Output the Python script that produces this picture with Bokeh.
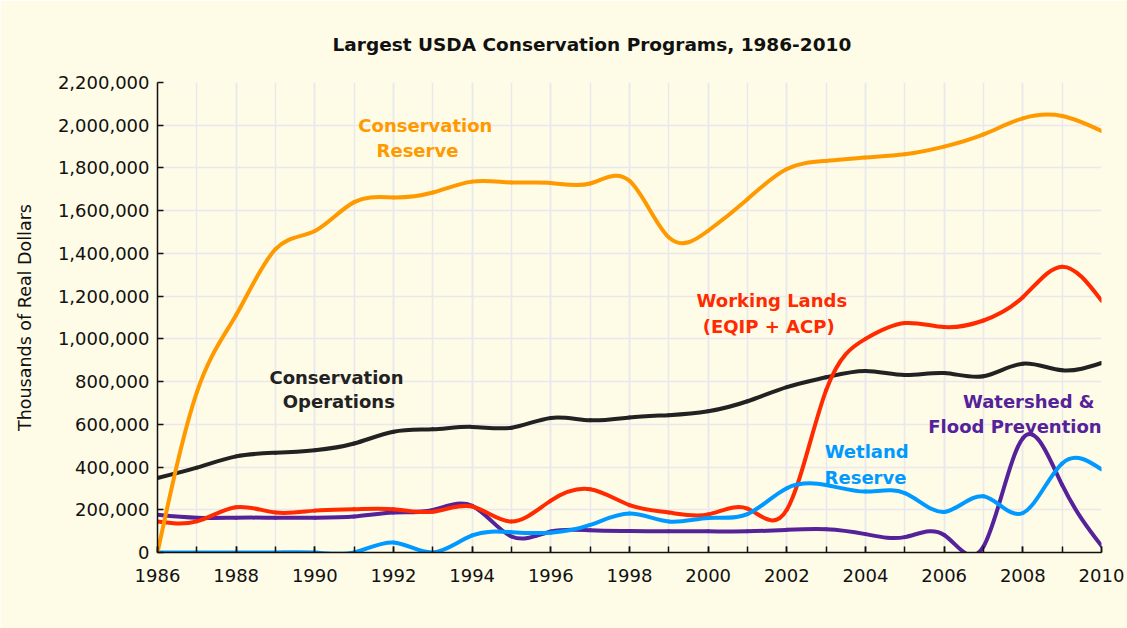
import numpy as np
from bokeh.plotting import figure
from bokeh.models import Range1d, FixedTicker, NumeralTickFormatter, Label
from bokeh.embed import file_html
from bokeh.resources import INLINE

# ---------------- data (thousands of real dollars) ----------------
years = list(range(1986, 2011))
conservation_reserve = [0, 750000, 1112000, 1420000, 1505000, 1640000, 1662000, 1685000,
                        1736000, 1732000, 1730000, 1727000, 1740000, 1475000, 1506000,
                        1654000, 1795000, 1833000, 1849000, 1864000, 1900000, 1957000,
                        2032000, 2043000, 1973000]
conservation_operations = [349000, 397000, 450000, 467000, 479000, 510000, 565000, 577000,
                           588000, 584000, 630000, 619000, 632000, 643000, 661000, 708000,
                           774000, 820000, 850000, 831000, 840000, 825000, 884000, 853000,
                           887000]
working_lands = [145000, 146000, 212000, 187000, 196000, 202000, 202000, 191000, 215000,
                 145000, 243000, 296000, 222000, 187000, 178000, 205000, 200000, 760000,
                 1000000, 1074000, 1055000, 1086000, 1195000, 1338000, 1179000]
wetland_reserve = [0, 0, 0, 0, 0, 0, 47000, 0, 80000, 95000, 93000, 129000, 182000, 145000,
                   162000, 180000, 301000, 316000, 285000, 278000, 190000, 263000, 185000,
                   417000, 389000]
watershed_flood = [177000, 163000, 163000, 163000, 163000, 168000, 187000, 199000, 218000,
                   75000, 98000, 104000, 101000, 99000, 99000, 99000, 106000, 109000,
                   86000, 72000, 82000, 28000, 535000, 316000, 31000]

x_ticks = list(range(1986, 2011, 2))
x_minor = list(range(1986, 2011, 1))
y_ticks = list(range(0, 2200001, 200000))

BG = "#fefbe6"
GRID = "#e9e8ee"
ORANGE = "#ff9900"
BLACK = "#222222"
RED = "#ff2a00"
BLUE = "#0099ff"
PURPLE = "#552299"
FONT = "DejaVu Sans"


def spline_bezier(xs, ys):
    """Natural cubic spline through the points, expressed as Bezier segments."""
    xs = np.asarray(xs, dtype=float)
    ys = np.asarray(ys, dtype=float)
    n = len(xs)
    h = np.diff(xs)
    A = np.zeros((n, n))
    r = np.zeros(n)
    A[0, 0] = 1.0
    A[-1, -1] = 1.0
    for i in range(1, n - 1):
        A[i, i - 1] = h[i - 1]
        A[i, i] = 2 * (h[i - 1] + h[i])
        A[i, i + 1] = h[i]
        r[i] = 6 * ((ys[i + 1] - ys[i]) / h[i] - (ys[i] - ys[i - 1]) / h[i - 1])
    M = np.linalg.solve(A, r)
    m = np.zeros(n)
    for i in range(n - 1):
        m[i] = (ys[i + 1] - ys[i]) / h[i] - h[i] * (2 * M[i] + M[i + 1]) / 6
    m[-1] = (ys[-1] - ys[-2]) / h[-1] + h[-1] * (M[-2] + 2 * M[-1]) / 6
    return dict(x0=xs[:-1], y0=ys[:-1], x1=xs[1:], y1=ys[1:],
                cx0=xs[:-1] + h / 3, cy0=ys[:-1] + m[:-1] * h / 3,
                cx1=xs[1:] - h / 3, cy1=ys[1:] - m[1:] * h / 3)


p = figure(width=1127, height=628,
           x_range=Range1d(1986, 2010), y_range=Range1d(0, 2200000),
           output_backend="svg", toolbar_location=None,
           min_border_left=157, min_border_right=26,
           min_border_top=82, min_border_bottom=76)

p.background_fill_color = BG
p.border_fill_color = BG
p.outline_line_color = None

# title
p.title.text = "Largest USDA Conservation Programs, 1986-2010"
p.title.text_font = FONT
p.title.text_font_style = "bold"
p.title.text_font_size = "18.5px"
p.title.text_color = "#111111"
p.title.align = "left"
p.title.offset = 175
p.title.standoff = 56

# axes
p.xaxis.ticker = FixedTicker(ticks=x_ticks, minor_ticks=x_minor)
p.yaxis.ticker = FixedTicker(ticks=y_ticks)
p.yaxis.formatter = NumeralTickFormatter(format="0,0")
for ax in (p.xaxis, p.yaxis):
    ax.axis_line_color = "#111111"
    ax.axis_line_width = 1.5
    ax.major_tick_line_color = "#111111"
    ax.major_tick_line_width = 1.5
    ax.major_tick_in = 6
    ax.major_tick_out = 0
    ax.major_label_text_font = FONT
    ax.major_label_text_font_size = "18px"
    ax.major_label_text_color = "#111111"
p.xaxis.minor_tick_line_color = "#111111"
p.xaxis.minor_tick_line_width = 1.5
p.xaxis.minor_tick_in = 6
p.xaxis.minor_tick_out = 0
p.yaxis.minor_tick_line_color = None
p.xaxis.major_label_standoff = 16
p.yaxis.major_label_standoff = 8
p.yaxis.axis_label = "Thousands of Real Dollars"
p.yaxis.axis_label_text_font = FONT
p.yaxis.axis_label_text_font_size = "17.5px"
p.yaxis.axis_label_text_font_style = "normal"
p.yaxis.axis_label_text_color = "#111111"
p.yaxis.axis_label_standoff = 20

# grid
p.xgrid.grid_line_color = GRID
p.xgrid.grid_line_width = 1.5
p.xgrid.minor_grid_line_color = GRID
p.xgrid.minor_grid_line_width = 1.5
p.ygrid.grid_line_color = GRID
p.ygrid.grid_line_width = 1.5

series = [
    (watershed_flood, PURPLE),
    (conservation_operations, BLACK),
    (working_lands, RED),
    (wetland_reserve, BLUE),
    (conservation_reserve, ORANGE),
]
for vals, col in series:
    p.bezier(**spline_bezier(years, vals), line_color=col, line_width=4, line_cap="round")

labels = [
    ("Conservation", 1992.81, 1997000, ORANGE),
    ("Reserve", 1992.61, 1880000, ORANGE),
    ("Conservation", 1990.55, 821000, BLACK),
    ("Operations", 1990.61, 705000, BLACK),
    ("Working Lands", 2001.62, 1178000, RED),
    ("(EQIP + ACP)", 2001.54, 1060000, RED),
    ("Wetland", 2004.03, 473000, BLUE),
    ("Reserve", 2004.00, 353000, BLUE),
    ("Watershed &", 2008.15, 705000, PURPLE),
    ("Flood Prevention", 2007.80, 592000, PURPLE),
]
for txt, x, y, col in labels:
    p.add_layout(Label(x=x, y=y, text=txt, text_align="center", text_baseline="middle",
                       text_font=FONT, text_font_style="bold", text_font_size="18px",
                       text_color=col))

open("out.html", "w").write(file_html(p, INLINE))
